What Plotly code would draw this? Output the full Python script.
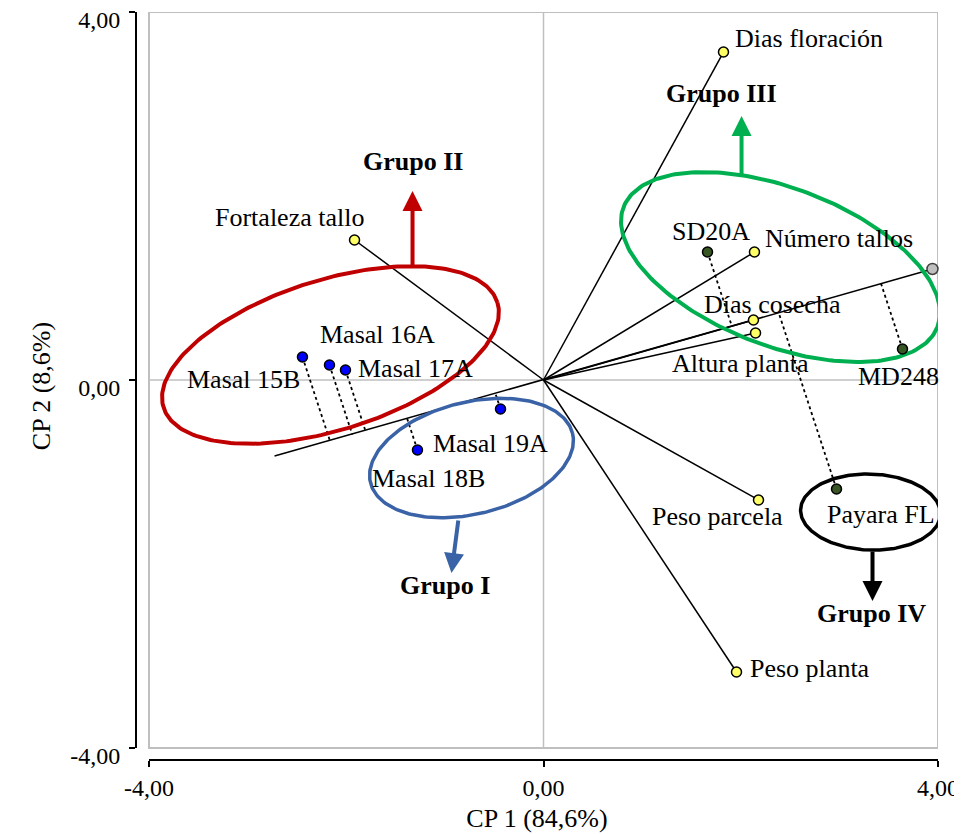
import numpy as np
import plotly.graph_objects as go

# ---------------- data ----------------
var_names = ["Dias floración", "Número tallos", "Días cosecha", "Altura planta",
             "Peso parcela", "Peso planta", "Fortaleza tallo"]
var_x = [1.825, 2.139, 2.129, 2.150, 2.180, 1.957, -1.916]
var_y = [3.565, 1.391, 0.652, 0.511, -1.304, -3.174, 1.522]

# projection axis (grey end point and its opposite end)
proj_x = [-2.727, 3.944]
proj_y = [-0.826, 1.207]

geno_names = ["Masal 15B", "Masal 16A", "Masal 17A", "Masal 18B", "Masal 19A",
              "SD20A", "MD248", "Payara FL"]
geno_x = [-2.444, -2.170, -2.008, -1.278, -0.436, 1.663, 3.640, 2.971]
geno_y = [0.250, 0.163, 0.109, -0.761, -0.315, 1.391, 0.337, -1.185]
geno_group = ["II", "II", "II", "I", "I", "III", "III", "IV"]

tick_vals = [-4, 0, 4]
tick_text = ["-4,00", "0,00", "4,00"]

# ---------------- layout geometry ----------------
# the page body has an 8px margin, so the figure is 8px smaller
W, H = 954, 826
ML, MR, MT, MB = 128, 24, 4, 74
XR = [-4.1318, 4.0]
YR = [-4.1304, 4.0]
PXX = (W - ML - MR) / (XR[1] - XR[0])
PXY = (H - MT - MB) / (YR[1] - YR[0])

FONT = "Liberation Serif"
FS = 26

fig = go.Figure()

# vectors from origin
lx, ly = [], []
for x, y in zip(var_x, var_y):
    lx += [0, x, None]
    ly += [0, y, None]
lx += [proj_x[0], proj_x[1], None]
ly += [proj_y[0], proj_y[1], None]
fig.add_trace(go.Scatter(x=lx, y=ly, mode="lines", cliponaxis=False,
                         line=dict(color="black", width=1.5), hoverinfo="skip"))

# dotted projections of genotypes onto the projection axis
u = np.array([proj_x[1], proj_y[1]], dtype=float)
u = u / np.linalg.norm(u)
dx, dy = [], []
for x, y in zip(geno_x, geno_y):
    p = np.dot([x, y], u) * u
    dx += [x, p[0], None]
    dy += [y, p[1], None]
fig.add_trace(go.Scatter(x=dx, y=dy, mode="lines", cliponaxis=False,
                         line=dict(color="black", width=1.8, dash="dot"), hoverinfo="skip"))

# group ellipses: centre (data), semi-axes (px), angle (deg), colour, width
ellipses = [
    (-2.160, 0.272, 175, 75, 17.5, "#C00000", 4),
    (2.403, 1.228, 168, 79, -20.85, "#00B050", 4),
    (-0.730, -0.848, 104, 56, 13.7, "#3A62A6", 3.5),
    (3.316, -1.435, 70, 38, -2.0, "black", 3.5),
]
t = np.linspace(0, 2 * np.pi, 240)
for cx, cy, a, b, ang, col, w in ellipses:
    th = np.deg2rad(ang)
    ex = a * np.cos(t) * np.cos(th) - b * np.sin(t) * np.sin(th)
    ey = a * np.cos(t) * np.sin(th) + b * np.sin(t) * np.cos(th)
    fig.add_trace(go.Scatter(x=cx + ex / PXX, y=cy + ey / PXY, mode="lines",
                             cliponaxis=False,
                             line=dict(color=col, width=w), hoverinfo="skip"))

# markers
fig.add_trace(go.Scatter(x=var_x, y=var_y, mode="markers", cliponaxis=False,
                         marker=dict(size=10, color="#FFFF66", line=dict(color="black", width=1.5)),
                         hoverinfo="skip"))
fig.add_trace(go.Scatter(x=[proj_x[1]], y=[proj_y[1]], mode="markers", cliponaxis=False,
                         marker=dict(size=11, color="#BFBFBF", line=dict(color="#404040", width=1.5)),
                         hoverinfo="skip"))
gcol = ["#0000FF" if g in ("I", "II") else "#375623" for g in geno_group]
fig.add_trace(go.Scatter(x=geno_x, y=geno_y, mode="markers", cliponaxis=False,
                         marker=dict(size=10, color=gcol, line=dict(color="black", width=1.5)),
                         hoverinfo="skip"))

# labels: (anchor, xshift px, yshift px)
var_lab = {
    "Dias floración": ("left", 10, 14),
    "Número tallos": ("left", 9, 14),
    "Días cosecha": ("center", 19, 16),
    "Altura planta": ("center", -15, -31),
    "Peso parcela": ("center", -41, -17),
    "Peso planta": ("left", 11, 4),
    "Fortaleza tallo": ("center", -65, 22),
}
geno_lab = {
    "Masal 15B": ("center", -59, -22),
    "Masal 16A": ("center", 48, 31),
    "Masal 17A": ("center", 70, 1),
    "Masal 18B": ("center", 11, -28),
    "Masal 19A": ("center", -10, -35),
    "SD20A": ("center", 3, 21),
    "MD248": ("center", -4, -27),
    "Payara FL": ("center", 44, -25),
}
annots = []
for n, x, y in list(zip(var_names, var_x, var_y)) + list(zip(geno_names, geno_x, geno_y)):
    anc, sx, sy = var_lab.get(n) or geno_lab.get(n)
    annots.append(dict(x=x, y=y, xref="x", yref="y", text=n, showarrow=False,
                       xanchor=anc, yanchor="middle", xshift=sx, yshift=sy,
                       font=dict(family=FONT, size=FS, color="black")))

# group arrows and titles: tail, tip, label position, colour
groups = [
    ("Grupo II", (-1.328, 1.207), (-1.328, 2.054), (-1.328, 2.370), "#C00000"),
    ("Grupo III", (2.008, 2.207), (2.008, 2.870), (1.805, 3.109), "#00B050"),
    ("Grupo I", (-0.862, -1.511), (-0.933, -2.098), (-0.994, -2.239), "#3A62A6"),
    ("Grupo IV", (3.336, -1.848), (3.336, -2.402), (3.326, -2.533), "black"),
]
for name, tail, tip, lab, col in groups:
    annots.append(dict(x=tip[0], y=tip[1], ax=tail[0], ay=tail[1], xref="x", yref="y",
                       axref="x", ayref="y", text="", showarrow=True, arrowhead=2,
                       arrowsize=1.0, arrowwidth=4, arrowcolor=col, standoff=0))
    annots.append(dict(x=lab[0], y=lab[1], xref="x", yref="y", text="<b>%s</b>" % name,
                       showarrow=False, xanchor="center", yanchor="middle",
                       font=dict(family=FONT, size=FS, color="black")))

shapes = [
    dict(type="rect", xref="x", yref="y", x0=-4, x1=4, y0=-4, y1=4,
         line=dict(color="#BFBFBF", width=2), layer="below"),
    dict(type="line", xref="x", yref="y", x0=0, x1=0, y0=-4, y1=4,
         line=dict(color="#BFBFBF", width=1.5), layer="below"),
    dict(type="line", xref="x", yref="y", x0=-4, x1=4, y0=0, y1=0,
         line=dict(color="#BFBFBF", width=1.5), layer="below"),
    dict(type="line", xref="paper", yref="y", x0=0, x1=0, y0=-4, y1=4,
         line=dict(color="black", width=2)),
    dict(type="line", xref="x", yref="paper", x0=-4, x1=4, y0=0, y1=0,
         line=dict(color="black", width=2)),
]

fig.update_layout(
    width=W, height=H, margin=dict(l=ML, r=MR, t=MT, b=MB, autoexpand=False),
    paper_bgcolor="white", plot_bgcolor="white", showlegend=False,
    annotations=annots, shapes=shapes,
    font=dict(family=FONT, size=FS, color="black"),
)
fig.update_xaxes(range=XR, showgrid=False, zeroline=False, showline=False, automargin=False,
                 tickvals=tick_vals, ticktext=tick_text, ticks="outside", ticklen=6,
                 tickwidth=2, tickcolor="black", ticklabelstandoff=0,
                 ticklabeloverflow="allow",
                 tickfont=dict(family=FONT, size=FS - 2),
                 title=dict(text="CP 1 (84,6%)", font=dict(family=FONT, size=FS), standoff=9))
fig.update_yaxes(range=YR, showgrid=False, zeroline=False, showline=False, automargin=False,
                 tickvals=tick_vals, ticktext=tick_text, ticks="outside", ticklen=6,
                 tickwidth=2, tickcolor="black", ticklabelstandoff=4, ticklabelshift=8,
                 ticklabeloverflow="allow",
                 tickfont=dict(family=FONT, size=FS - 2),
                 title=dict(text="CP 2 (8,6%)", font=dict(family=FONT, size=FS), standoff=12))

fig.write_html("out.html")
